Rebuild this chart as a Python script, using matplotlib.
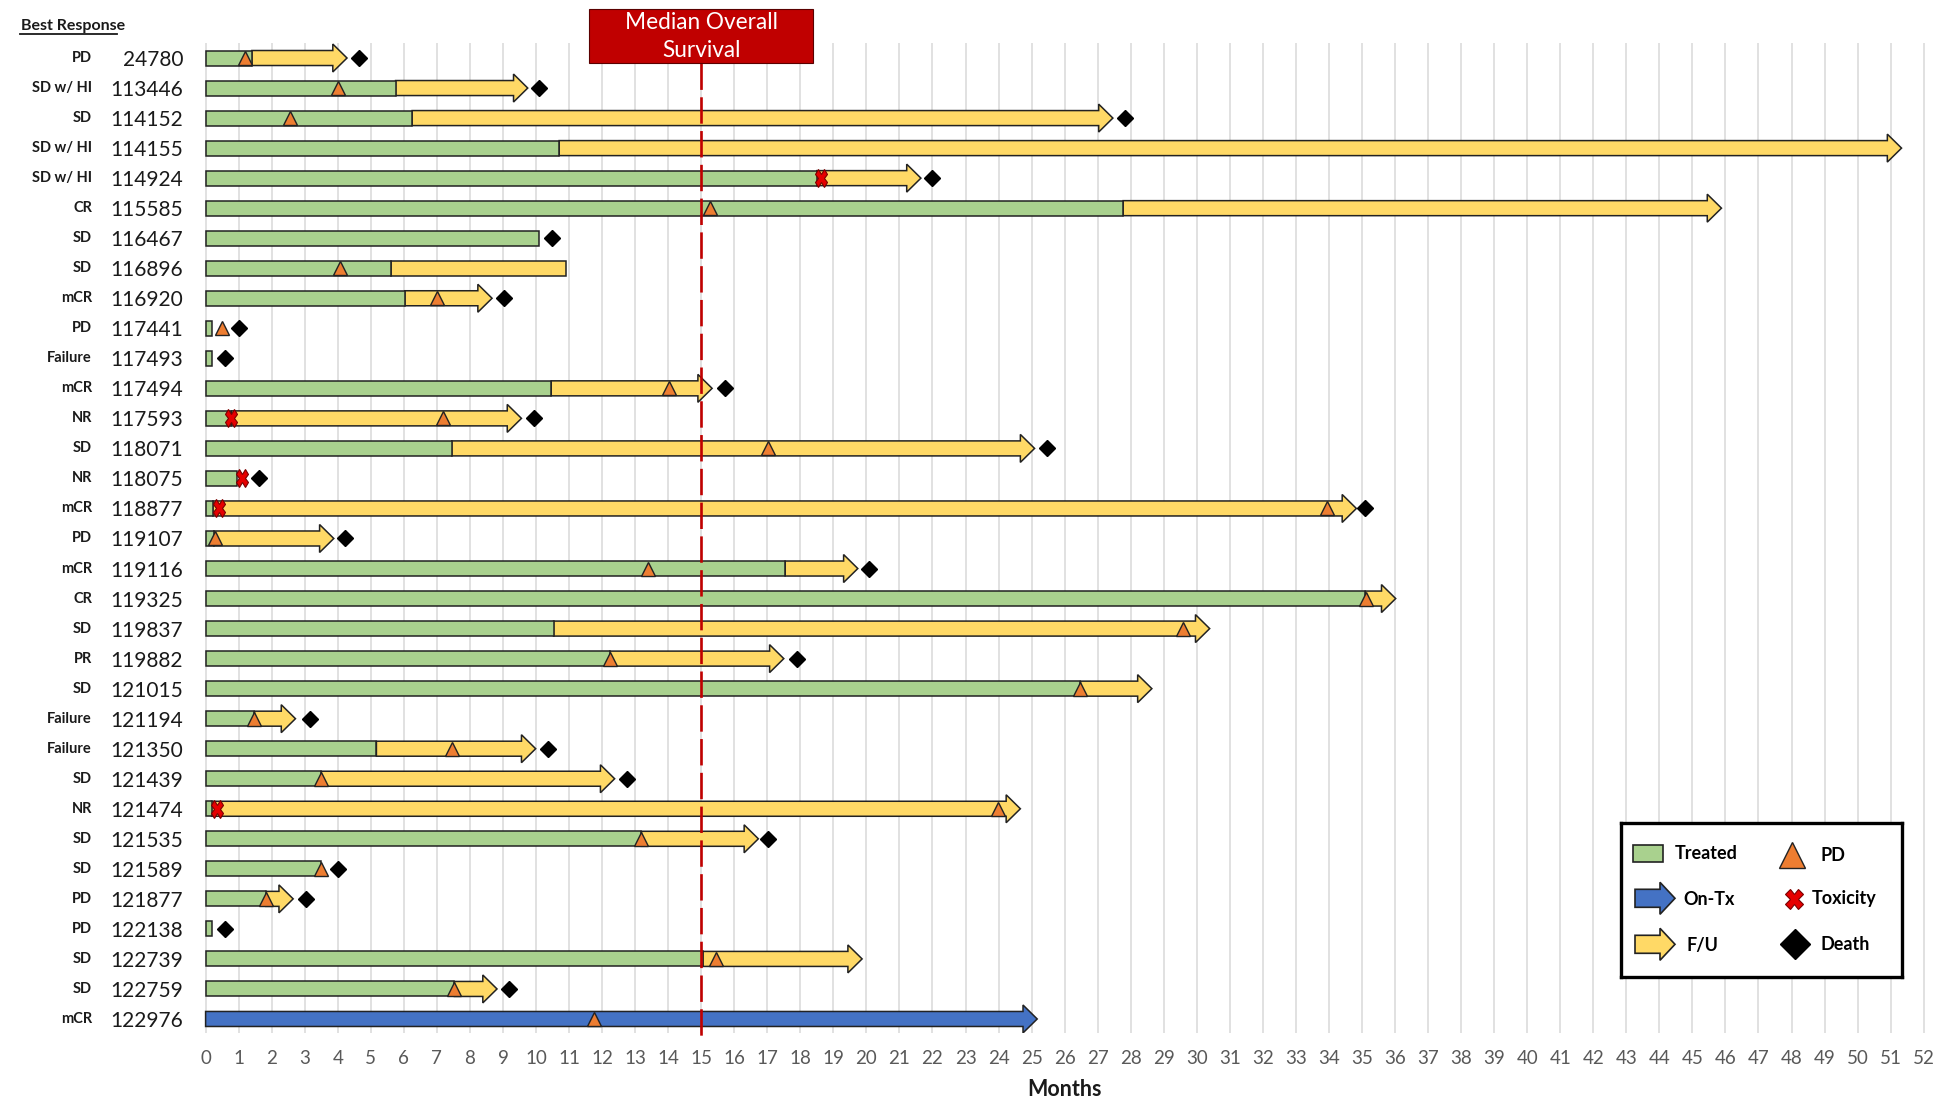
import numpy as np
import matplotlib
matplotlib.use("Agg")
import matplotlib.pyplot as plt
from matplotlib.patches import Polygon, Rectangle
from matplotlib.markers import MarkerStyle
from matplotlib.transforms import Affine2D

plt.rcParams['font.family'] = ['Lato', 'DejaVu Sans']

nan = np.nan

# ---------------- data ----------------
patient_ids = ['24780', '113446', '114152', '114155', '114924', '115585', '116467',
               '116896', '116920', '117441', '117493', '117494', '117593', '118071',
               '118075', '118877', '119107', '119116', '119325', '119837', '119882',
               '121015', '121194', '121350', '121439', '121474', '121535', '121589',
               '121877', '122138', '122739', '122759', '122976']
best_response = ['PD', 'SD w/ HI', 'SD', 'SD w/ HI', 'SD w/ HI', 'CR', 'SD', 'SD', 'mCR',
                 'PD', 'Failure', 'mCR', 'NR', 'SD', 'NR', 'mCR', 'PD', 'mCR', 'CR', 'SD',
                 'PR', 'SD', 'Failure', 'Failure', 'SD', 'NR', 'SD', 'SD', 'PD', 'PD',
                 'SD', 'SD', 'mCR']
treated_end = [1.4, 5.75, 6.25, 10.7, 18.5, 27.77, 10.1, 5.6, 6.03, 0.2, 0.2, 10.46,
               0.78, 7.45, 0.94, 0.22, 0.25, 17.54, 35.1, 10.53, 12.23, 26.48, 1.48,
               5.17, 3.5, 0.18, 13.19, 3.5, 1.82, 0.2, 15.05, 7.53, 25.17]
on_treatment = [False] * 32 + [True]
followup_end = [4.28, 9.75, 27.46, 51.33, 21.65, 45.88, nan, 10.9, 8.67, nan, nan, 15.33,
                9.56, 25.09, nan, 34.83, 3.88, 19.74, 36.02, 30.39, 17.5, 28.64, 2.72,
                9.99, 12.38, 24.66, 16.73, nan, 2.65, nan, 19.87, 8.82, nan]
followup_arrow = [True] * 7 + [False] + [True] * 25
pd_time = [1.2, 4.02, 2.55, nan, nan, 15.26, nan, 4.06, 6.99, 0.49, nan, 14.04, 7.19,
           17.02, nan, 33.93, 0.29, 13.4, 35.11, 29.57, 12.23, 26.48, 1.48, 7.45, 3.5,
           23.98, 13.19, 3.5, 1.82, nan, 15.46, 7.53, 11.75]
toxicity_time = [nan, nan, nan, nan, 18.64, nan, nan, nan, nan, nan, nan, nan, 0.78, nan,
                 1.09, 0.42, nan, nan, nan, nan, nan, nan, nan, nan, nan, 0.35, nan, nan,
                 nan, nan, nan, nan, nan]
death_time = [4.63, 10.08, 27.84, nan, 22.0, nan, 10.49, nan, 9.02, 1.02, 0.6, 15.72, 9.94,
              25.48, 1.61, 35.1, 4.21, 20.08, nan, nan, 17.9, nan, 3.15, 10.36, 12.74, nan,
              17.03, 4.0, 3.05, 0.6, nan, 9.19, nan]
median_os = 15
month_ticks = list(range(0, 53))

# ---------------- styles ----------------
GREEN = '#A9D18E'
YELLOW = '#FFD966'
BLUE = '#4472C4'
ORANGE = '#ED7D31'
RED = '#E60000'
DARKRED = '#C00000'
EDGE = '#222222'
LW = 1.1
BODY_H = 0.5
HEAD_H = 0.93
HEAD_L = 0.43

W, H = 1942, 1103
fig = plt.figure(figsize=(W / 100, H / 100), dpi=100)
x0_px, px_per_month = 205.6, 33.04
top_px, bot_px = 43, 1033
xpad = 0.05
ax = fig.add_axes([(x0_px - xpad * px_per_month) / W, 1 - bot_px / H,
                   (52 + 2 * xpad) * px_per_month / W, (bot_px - top_px) / H])
row_px = 30.03
ax.set_xlim(-xpad, 52 + xpad)
ax.set_ylim(-0.5 + (bot_px - top_px) / row_px, -0.5)

for s in ax.spines.values():
    s.set_visible(False)
ax.set_xticks(month_ticks)
ax.tick_params(axis='x', length=0, pad=12, labelsize=13.5, labelcolor='#595959')
ax.grid(axis='x', color='#D9D9D9', lw=1.1)
ax.set_axisbelow(True)

n = len(patient_ids)
rows = np.arange(n)
ax.set_yticks(rows)
ax.set_yticklabels(patient_ids, fontsize=15, color='#1a1a1a')
ax.tick_params(axis='y', length=0, pad=15)


def arrow(axis, xs, xe, y, color, bh=BODY_H, hh=HEAD_H, hl=HEAD_L, lw=LW, z=2):
    xb = max(xe - hl, xs)
    pts = [(xs, y - bh / 2), (xb, y - bh / 2), (xb, y - hh / 2), (xe, y),
           (xb, y + hh / 2), (xb, y + bh / 2), (xs, y + bh / 2)]
    axis.add_patch(Polygon(pts, closed=True, facecolor=color, edgecolor=EDGE,
                           lw=lw, joinstyle='miter', zorder=z))


for i in range(n):
    y = rows[i]
    if on_treatment[i]:
        arrow(ax, 0, treated_end[i], y, BLUE)
    else:
        if not np.isnan(followup_end[i]):
            if followup_arrow[i]:
                arrow(ax, treated_end[i], followup_end[i], y, YELLOW)
            else:
                ax.barh(y, followup_end[i] - treated_end[i], left=treated_end[i],
                        height=BODY_H, color=YELLOW, edgecolor=EDGE, lw=LW, zorder=2)
        ax.barh(y, treated_end[i], left=0, height=BODY_H, color=GREEN,
                edgecolor=EDGE, lw=LW, zorder=2.5)

xmark = MarkerStyle('X', transform=Affine2D().scale(0.72, 1.0))
ax.plot(pd_time, rows, ls='none', marker='^', ms=10.5, mfc=ORANGE, mec=EDGE,
        mew=1.0, zorder=6, clip_on=False)
ax.plot(toxicity_time, rows, ls='none', marker=xmark, ms=12.5, mfc=RED, mec='#7a0000',
        mew=0.8, zorder=6, clip_on=False)
ax.plot(death_time, rows, ls='none', marker='D', ms=8, mfc='black', mec='black',
        zorder=6, clip_on=False)

# response labels
resp_x = (92 - (x0_px - xpad * px_per_month)) / ((52 + 2 * xpad) * px_per_month)
for i in range(n):
    ax.text(resp_x, rows[i], best_response[i], transform=ax.get_yaxis_transform(),
            ha='right', va='center', fontsize=10.5, fontweight='bold', color='#1a1a1a')

fig.text(21 / W, 1 - 26 / H, 'Best Response', ha='left', va='center', fontsize=11.5,
         fontweight='bold', color='#1a1a1a')
fig.add_artist(plt.Line2D([20 / W, 117 / W], [1 - 34 / H, 1 - 34 / H], color='#1a1a1a',
                          lw=1.3))

# median overall survival
box_w = 6.78
box_top = -0.5 - (top_px - 9) / row_px
box_bot = -0.5 + (63 - top_px) / row_px
ax.plot([median_os, median_os], [box_bot, 32.6], color=DARKRED, lw=1.9,
        dashes=(10, 2.8), zorder=4, clip_on=False)
ax.add_patch(Rectangle((median_os - box_w / 2, box_top), box_w, box_bot - box_top,
                       facecolor=DARKRED, edgecolor='#5a0000', lw=0.8, zorder=7,
                       clip_on=False))
ax.text(median_os, (box_top + box_bot) / 2 + 0.02, 'Median Overall\nSurvival', ha='center',
        va='center', color='white', fontsize=16.3, linespacing=1.45, zorder=8)

ax.text(0.5, (bot_px - 1090) / (bot_px - top_px), 'Months', transform=ax.transAxes,
        ha='center', va='center', fontsize=15.5, fontweight='bold', color='#1a1a1a')

# legend
lx0, ly0, lx1, ly1 = 1620.7, 822.7, 1902, 976.7
lax = fig.add_axes([lx0 / W, 1 - ly1 / H, (lx1 - lx0) / W, (ly1 - ly0) / H])
lax.set_xlim(0, lx1 - lx0)
lax.set_ylim(ly1 - ly0, 0)
lax.set_xticks([])
lax.set_yticks([])
lax.set_facecolor('white')
for s in lax.spines.values():
    s.set_linewidth(2.4)
    s.set_color('black')
lax.add_patch(Rectangle((12.5, 22.5), 30, 17, facecolor=GREEN, edgecolor=EDGE, lw=1.2))
arrow(lax, 14.3, 54.3, 75.6, BLUE, bh=18, hh=32, hl=15, lw=1.2)
arrow(lax, 14.3, 54.3, 121.6, YELLOW, bh=18, hh=32, hl=15, lw=1.2)
lfs = 13
lax.text(54.3, 31, 'Treated', va='center', ha='left', fontsize=lfs, fontweight='bold')
lax.text(62.5, 77, 'On-Tx', va='center', ha='left', fontsize=lfs, fontweight='bold')
lax.text(65.5, 123, 'F/U', va='center', ha='left', fontsize=lfs, fontweight='bold')
lax.plot([171], [32.6], marker='^', ms=18.5, mfc=ORANGE, mec=EDGE, mew=1.0)
lax.plot([173.3], [76.6], marker=MarkerStyle('X', transform=Affine2D().scale(0.85, 1.0)),
         ms=15, mfc=RED, mec='#7a0000', mew=0.8)
lax.plot([174.3], [121.6], marker='D', ms=15, mfc='black', mec='black')
lax.text(200, 33, 'PD', va='center', ha='left', fontsize=lfs, fontweight='bold')
lax.text(191.3, 76, 'Toxicity', va='center', ha='left', fontsize=lfs, fontweight='bold')
lax.text(200, 122, 'Death', va='center', ha='left', fontsize=lfs, fontweight='bold')

fig.savefig('out.png', dpi=100)
